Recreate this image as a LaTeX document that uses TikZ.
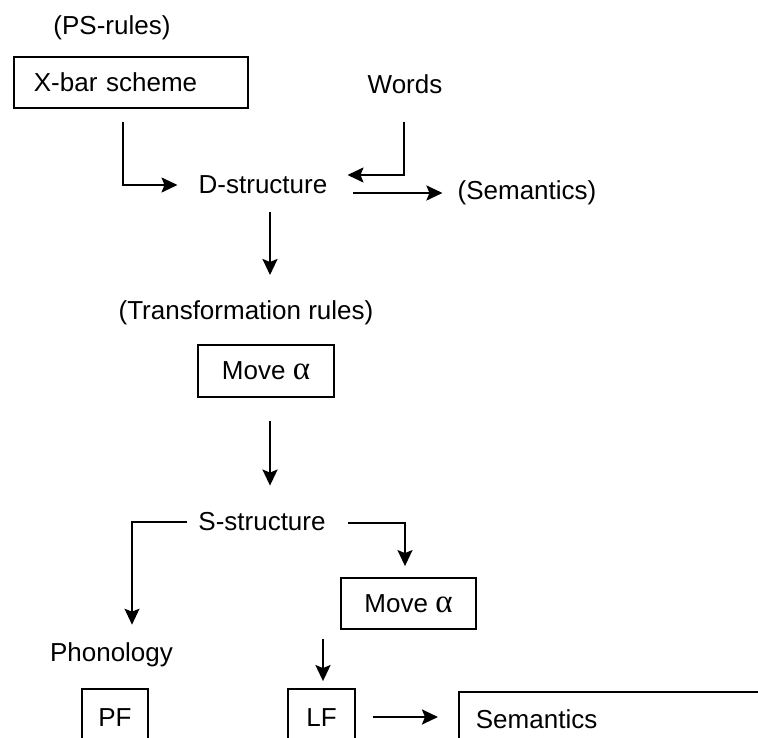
\documentclass[tikz,border=0pt]{standalone}
\usepackage{fontspec}
\setmainfont{Liberation Sans}
\newfontfamily\grk{Liberation Serif}
\usetikzlibrary{arrows.meta,calc}
\tikzset{
  x=1pt, y=-1pt,
  lbl/.style={inner sep=0pt, font=\fontsize{26}{30}\selectfont},
  boxnode/.style={draw, line width=1.8pt, inner sep=0pt, font=\fontsize{26}{30}\selectfont},
  arr/.style={line width=2.4pt, -{Stealth[length=16pt,width=15pt,inset=3pt]}},
  thinarr/.style={line width=1.8pt, -{Stealth[length=16pt,width=15pt,inset=3pt]}},
}
\newcommand{\alp}{{\grk\fontsize{33}{30}\selectfont α}}
\begin{document}
\begin{tikzpicture}
\useasboundingbox (0,0) rectangle (758,738);
\clip (0,0) rectangle (758,738);
% nodes
\node[lbl] (ps) at (112,28) {(PS-rules)};
\node[boxnode, anchor=west, minimum height=51pt, text width=194pt, inner xsep=20pt, align=left] (xbar) at (13,82.5) {X-bar scheme};
\node[lbl] (words) at (405,84) {Words};
\node[lbl] (dstr) at (263,185) {D-structure};
\node[lbl] (sem1) at (527,193) {(Semantics)};
\node[lbl] (trans) at (246,313) {(Transformation rules)};
\node[boxnode, minimum width=136pt, minimum height=52pt] (move1) at (266,371) {Move \alp};
\node[lbl] (sstr) at (262,522) {S-structure};
\node[boxnode, minimum width=135pt, minimum height=51pt] (move2) at (408.5,603.5) {Move \alp};
\node[lbl] (phon) at (111.5,655) {Phonology};
\node[boxnode, minimum width=66pt, minimum height=57pt] (pf) at (115,717.5) {PF};
\node[boxnode, minimum width=67pt, minimum height=57pt] (lf) at (321.5,717.5) {LF};
\node[boxnode, anchor=west, minimum height=54pt, text width=308pt, inner xsep=17pt, align=left] (sem2) at (458,719) {Semantics};
% connectors
\draw[thinarr] (123,122) |- ($(dstr.west)+(-21,0)$);
\draw[thinarr] ($(words.south)+(-1,28)$) |- ($(dstr.east)+(20,-10)$);
\draw[arr] ($(dstr.east)+(26,8)$) -- ($(sem1.west)+(-15,0)$);
\draw[arr] (270,212) -- (270,275);
\draw[arr] ($(move1.south)+(4,23)$) -- ($(sstr.north)+(8,-27)$);
\draw[thinarr] ($(sstr.west)+(-11,0)$) -| ($(phon.north)+(20.5,-18)$);
\draw[thinarr] ($(sstr.east)+(22,1)$) -| ($(move2.north)+(-3.5,-11)$);
\draw[arr] (lf.north |- move2.south) ++(1.5,9) -- ($(lf.north)+(1.5,-7)$);
\draw[arr] ($(lf.east)+(17,-0.5)$) -- ($(sem2.west)+(-20,-2)$);
\end{tikzpicture}
\end{document}
